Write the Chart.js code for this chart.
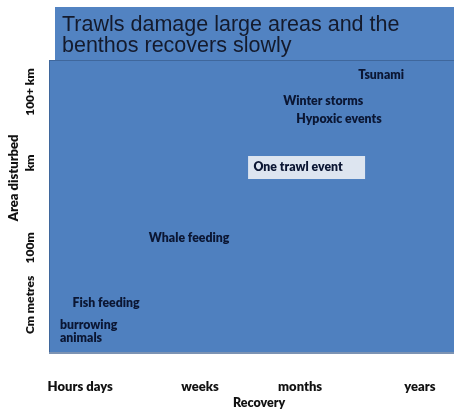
<!DOCTYPE html>
<html>
<head>
<meta charset="utf-8">
<title>Trawls damage large areas and the benthos recovers slowly</title>
<script src="https://cdn.jsdelivr.net/npm/chart.js@4/dist/chart.umd.min.js"></script>
<style>
  html, body { margin: 0; padding: 0; background: #ffffff; }
  canvas { display: block; }
</style>
</head>
<body>
<canvas id="chart" width="454" height="410"></canvas>
<script>
// Recovery time (x) and area disturbed (y), both on a 0–100 relative scale
const recoveryTicks = ['Hours days', 'weeks', 'months', 'years'];
const recoveryTickAt = [7.7, 37.3, 62.0, 91.6];
const areaTicks = ['Cm metres', '100m', 'km', '100+ km'];
const areaTickAt = [16.7, 36.1, 65.0, 89.1];

// Disturbance events
const eventNames = ['Tsunami', 'Winter storms', 'Hypoxic events', 'One trawl event', 'Whale feeding', 'Fish feeding', 'burrowing\nanimals'];
const eventRecovery = [82.0, 67.7, 71.6, 61.5, 34.6, 14.1, 2.7];
const eventArea = [94.9, 86.1, 79.9, 63.6, 39.5, 17.3, 7.5];
const highlighted = 'One trawl event';

const titleLines = ['Trawls damage large areas and the', 'benthos recovers slowly'];

const LABEL_FONT = 'Lato, "Open Sans", sans-serif';
const INK = '#0b1633';

const backdrop = {
  id: 'backdrop',
  beforeDraw(chart) {
    const { ctx, chartArea: a } = chart;
    ctx.save();
    // title panel
    ctx.fillStyle = '#5283c2';
    ctx.fillRect(55, 7, chart.width - 55, a.top - 7);
    // plot panel
    ctx.fillStyle = '#4f80bf';
    ctx.fillRect(a.left, a.top, a.right - a.left, a.bottom - a.top);
    ctx.fillStyle = '#3f679c';
    ctx.fillRect(a.left, a.top, a.right - a.left, 1);
    ctx.fillRect(a.left, a.top, 1, a.bottom - a.top);
    ctx.fillStyle = '#7c93b3';
    ctx.fillRect(a.left, a.bottom - 2, a.right - a.left, 2);
    // title
    ctx.fillStyle = '#141a2c';
    ctx.font = '21.5px "Liberation Sans", Arial, sans-serif';
    ctx.textAlign = 'left';
    ctx.textBaseline = 'alphabetic';
    ctx.fillText(titleLines[0], 62, 31);
    ctx.fillText(titleLines[1], 62, 52);
    ctx.restore();
  },
  afterDraw(chart) {
    const { ctx } = chart;
    const xs = chart.scales.x, ys = chart.scales.y;
    ctx.save();
    ctx.fillStyle = '#111111';
    ctx.font = '800 13px ' + LABEL_FONT;
    ctx.textBaseline = 'middle';
    ctx.textAlign = 'center';
    recoveryTicks.forEach((t, i) => {
      ctx.fillText(t, xs.getPixelForValue(recoveryTickAt[i]), 387);
    });
    ctx.font = '800 12.5px ' + LABEL_FONT;
    ctx.fillText('Recovery', xs.getPixelForValue(51.9), 403);
    // vertical labels on the left
    ctx.font = '800 12px ' + LABEL_FONT;
    areaTicks.forEach((t, i) => {
      ctx.save();
      ctx.translate(30, ys.getPixelForValue(areaTickAt[i]));
      ctx.rotate(-Math.PI / 2);
      ctx.fillText(t, 0, 0);
      ctx.restore();
    });
    ctx.font = '800 13px ' + LABEL_FONT;
    ctx.save();
    ctx.translate(14, ys.getPixelForValue(59.9));
    ctx.rotate(-Math.PI / 2);
    ctx.fillText('Area disturbed', 0, 0);
    ctx.restore();

    // event labels at their points
    const meta = chart.getDatasetMeta(0);
    ctx.font = '800 12.3px ' + LABEL_FONT;
    meta.data.forEach((pt, i) => {
      const name = eventNames[i];
      const lines = name.split('\n');
      if (name === highlighted) {
        ctx.fillStyle = '#dde5f0';
        ctx.fillRect(pt.x - 50, pt.y - 11, 117, 23);
      }
      ctx.fillStyle = INK;
      if (lines.length > 1) {
        ctx.textAlign = 'left';
        lines.forEach((ln, k) => ctx.fillText(ln, pt.x, pt.y + (k - (lines.length - 1) / 2) * 13));
      } else {
        ctx.textAlign = 'center';
        ctx.fillText(name, pt.x, pt.y);
      }
    });
    ctx.restore();
  }
};

new Chart(document.getElementById('chart'), {
  type: 'scatter',
  data: {
    datasets: [{
      data: eventNames.map((n, i) => ({ x: eventRecovery[i], y: eventArea[i] })),
      pointRadius: 0,
      pointHoverRadius: 0
    }]
  },
  options: {
    responsive: false,
    devicePixelRatio: 1,
    animation: false,
    events: [],
    layout: { padding: { left: 49, right: 0, top: 60, bottom: 56 } },
    scales: {
      x: { type: 'linear', min: 0, max: 100, display: false },
      y: { type: 'linear', min: 0, max: 100, display: false }
    },
    plugins: { legend: { display: false }, tooltip: { enabled: false } }
  },
  plugins: [backdrop]
});
</script>
</body>
</html>
